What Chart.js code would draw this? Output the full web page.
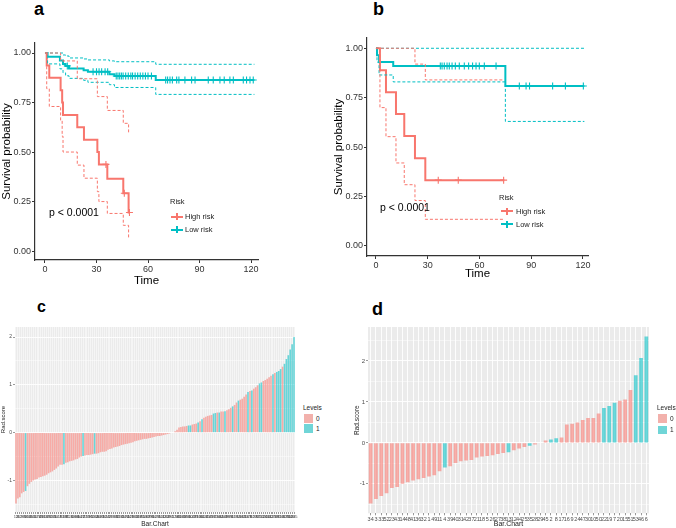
<!DOCTYPE html>
<html lang="en">
<head>
<meta charset="UTF-8">
<title>Survival curves and Rad-score bars</title>
<script src="https://cdn.jsdelivr.net/npm/chart.js"></script>
<style>
    body {
        margin: 0;
        width: 676px;
        height: 528px;
        position: relative;
        overflow: hidden;
        background: #fff;
        font-family: 'Liberation Sans', Arial, sans-serif;
    }
    canvas { position: absolute; }
    .lbl { position: absolute; font-weight: bold; color: #000; line-height: 1; }
    .txt { position: absolute; white-space: nowrap; color: #000; }
    .pval { font-size: 10.5px; line-height: 12px; }
    .leg { font-size: 7.5px; line-height: 9px; color: #222; }
    .key { position: absolute; height: 2px; width: 12px; }
    .mark { position: absolute; width: 1.3px; height: 7px; }
    .sq { position: absolute; width: 8.5px; height: 8.5px; }
    .lev { font-size: 6.5px; line-height: 8px; color: #222; }
</style>
</head>
<body>
<canvas id="kmA" width="270" height="262" style="left:0;top:30px"></canvas>
<canvas id="kmB" width="350" height="262" style="left:326px;top:30px"></canvas>
<canvas id="barC" width="300" height="208" style="left:0;top:320px"></canvas>
<canvas id="barD" width="340" height="208" style="left:336px;top:320px"></canvas>

<div class="lbl" style="left:34px;top:0;font-size:18px">a</div>
<div class="lbl" style="left:373px;top:0;font-size:18px">b</div>
<div class="lbl" style="left:37px;top:299px;font-size:16px">c</div>
<div class="lbl" style="left:372px;top:300px;font-size:18px">d</div>

<!-- panel a annotations -->
<div class="txt pval" style="left:49px;top:206px">p &lt; 0.0001</div>
<div class="txt leg" style="left:170px;top:197px">Risk</div>
<div class="key" style="left:171px;top:215.5px;background:#F8766D"></div>
<div class="mark" style="left:176.3px;top:213px;background:#F8766D"></div>
<div class="txt leg" style="left:185px;top:212px">High risk</div>
<div class="key" style="left:171px;top:228.5px;background:#00BFC4"></div>
<div class="mark" style="left:176.3px;top:226px;background:#00BFC4"></div>
<div class="txt leg" style="left:185px;top:225px">Low risk</div>

<!-- panel b annotations -->
<div class="txt pval" style="left:380px;top:201px">p &lt; 0.0001</div>
<div class="txt leg" style="left:499px;top:193px">Risk</div>
<div class="key" style="left:501px;top:210px;background:#F8766D"></div>
<div class="mark" style="left:506.3px;top:207.5px;background:#F8766D"></div>
<div class="txt leg" style="left:516px;top:206.5px">High risk</div>
<div class="key" style="left:501px;top:223px;background:#00BFC4"></div>
<div class="mark" style="left:506.3px;top:220.5px;background:#00BFC4"></div>
<div class="txt leg" style="left:516px;top:219.5px">Low risk</div>

<!-- panel c legend -->
<div class="txt lev" style="left:303px;top:404px">Levels</div>
<div class="sq" style="left:304px;top:414px;background:#F2B1AC"></div>
<div class="txt lev" style="left:316px;top:414.5px">0</div>
<div class="sq" style="left:304px;top:424px;background:#70D5D7"></div>
<div class="txt lev" style="left:316px;top:424.5px">1</div>

<!-- panel d legend -->
<div class="txt lev" style="left:657px;top:404px">Levels</div>
<div class="sq" style="left:658px;top:414px;background:#F2B1AC"></div>
<div class="txt lev" style="left:670px;top:414.5px">0</div>
<div class="sq" style="left:658px;top:425.5px;background:#70D5D7"></div>
<div class="txt lev" style="left:670px;top:426px">1</div>

<script>
    // ---- data: panel a (training) ----
    const timeTicks = [0, 30, 60, 90, 120];
    const survTicks = [0, 0.25, 0.5, 0.75, 1];

    const aHighT   = [0, 1, 2.5, 9.1, 10, 10.5, 18.8, 22.7, 30.5, 31.4, 36.3, 45.6, 48.7, 49.2];
    const aHighS   = [1, 0.9375, 0.875, 0.8125, 0.75, 0.6875, 0.625, 0.5625, 0.5, 0.4375, 0.365, 0.292, 0.195, 0.195];
    const aHighUp  = [1, 1, 1, 0.96, 0.96, 0.96, 0.87, 0.87, 0.78, 0.78, 0.71, 0.645, 0.6, 0.6];
    const aHighLo  = [1, 0.82, 0.73, 0.66, 0.58, 0.5, 0.434, 0.368, 0.3, 0.25, 0.19, 0.13, 0.064, 0.064];
    const aHighCens = [35.5, 46.2, 49.2];

    const aLowT  = [0, 1.5, 8.7, 10.5, 12, 14, 22.5, 25, 37.5, 40.5, 64.5, 122];
    const aLowS  = [1, 0.981, 0.962, 0.944, 0.935, 0.922, 0.913, 0.905, 0.893, 0.884, 0.864, 0.864];
    const aLowUp = [1, 1, 1, 0.99, 0.985, 0.975, 0.97, 0.965, 0.96, 0.956, 0.943, 0.943];
    const aLowLo = [1, 0.945, 0.92, 0.9, 0.885, 0.872, 0.862, 0.852, 0.84, 0.826, 0.791, 0.791];
    const aLowCens = [13, 28, 30, 31.5, 33, 35, 36.5, 41.5, 42.5, 43.5, 44.5, 45.5, 47, 48.5, 50, 51,
        52.5, 54, 55.5, 57, 58.5, 60, 62, 70.3, 71.4, 72.8, 74.2, 76.7, 78, 81.5, 85.4, 87.4,
        95.1, 98, 101.9, 104.4, 107.7, 109.7, 115.5, 117.4, 119.4, 121.3];

    // ---- data: panel b (validation) ----
    const bHighT  = [0, 2.3, 5.8, 11.6, 16.4, 22.6, 28.6, 74.4];
    const bHighS  = [1, 0.889, 0.778, 0.667, 0.556, 0.444, 0.333, 0.333];
    const bHighUp = [1, 1, 1, 1, 1, 0.92, 0.84, 0.84];
    const bHighLo = [1, 0.7, 0.553, 0.42, 0.31, 0.23, 0.135, 0.135];
    const bHighCens = [36.1, 47.7, 74];

    const bLowT  = [0, 0.6, 1.8, 10, 75, 120.8];
    const bLowS  = [1, 0.965, 0.931, 0.91, 0.809, 0.809];
    const bLowUp = [1, 1, 1, 1, 1, 1];
    const bLowLo = [1, 0.93, 0.865, 0.83, 0.63, 0.63];
    const bLowCens = [37.3, 38.3, 39.6, 41.2, 42.5, 44.1, 46, 48.3, 51.2, 53.7, 56, 58, 59.9,
        62.8, 69.6, 83.1, 87, 89, 102.4, 109.8, 120.2];

    // ---- data: panel c (training Rad-score) ----
    const cIds = [
        13, 26, 12, 9, 35, 88, 102, 57, 66, 140,
        3, 121, 74, 45, 98, 110, 27, 63, 81, 135,
        19, 52, 144, 7, 93, 118, 38, 71, 126, 4,
        59, 104, 86, 30, 141, 22, 77, 115, 49, 95,
        11, 132, 68, 40, 107, 83, 16, 124, 55, 2,
        99, 137, 34, 61, 113, 90, 25, 146, 72, 44,
        129, 8, 101, 58, 117, 36, 85, 14, 139, 67,
        23, 96, 50, 120, 78, 5, 111, 42, 133, 64,
        29, 92, 1, 128, 54, 80, 18, 143, 37, 106,
        69, 10, 122, 47, 89, 31, 136, 60, 114, 24,
        75, 145, 43, 97, 15, 130, 56, 84, 20, 109,
        39, 138, 70, 6, 119, 51, 94, 28, 142, 65,
        33, 103, 79, 17, 127, 46, 87, 21, 112, 62,
        134, 41, 100, 32, 125, 73, 48, 91, 116, 53,
        82, 131, 76, 108, 123, 105
    ];
    const cScore = [
        -1.48, -1.38, -1.35, -1.27, -1.24, -1.22, -1.12, -1.07, -1.03, -1.00,
        -0.98, -0.97, -0.94, -0.93, -0.91, -0.90, -0.88, -0.85, -0.83, -0.81,
        -0.78, -0.75, -0.71, -0.67, -0.67, -0.66, -0.63, -0.62, -0.60, -0.59,
        -0.58, -0.56, -0.55, -0.52, -0.50, -0.49, -0.48, -0.47, -0.47, -0.46,
        -0.45, -0.44, -0.44, -0.43, -0.41, -0.40, -0.40, -0.39, -0.36, -0.34,
        -0.33, -0.31, -0.30, -0.29, -0.28, -0.26, -0.25, -0.24, -0.23, -0.22,
        -0.21, -0.20, -0.18, -0.17, -0.16, -0.15, -0.14, -0.13, -0.13, -0.12,
        -0.11, -0.10, -0.09, -0.08, -0.07, -0.07, -0.06, -0.05, -0.04, -0.03,
        -0.02, -0.01, 0.01, 0.03, 0.06, 0.11, 0.12, 0.13, 0.13, 0.14,
        0.15, 0.15, 0.17, 0.18, 0.19, 0.21, 0.24, 0.28, 0.31, 0.33,
        0.35, 0.36, 0.37, 0.40, 0.41, 0.42, 0.42, 0.44, 0.44, 0.45,
        0.47, 0.49, 0.52, 0.55, 0.58, 0.63, 0.67, 0.69, 0.71, 0.75,
        0.80, 0.85, 0.87, 0.88, 0.92, 0.95, 0.99, 1.03, 1.05, 1.08,
        1.10, 1.13, 1.16, 1.19, 1.22, 1.25, 1.27, 1.29, 1.33, 1.38,
        1.44, 1.54, 1.62, 1.74, 1.85, 2.00
    ];
    const cLevel = [
        0, 0, 0, 0, 0, 1, 0, 0, 0, 0,
        0, 0, 0, 0, 0, 0, 0, 0, 0, 0,
        0, 0, 0, 0, 0, 1, 0, 0, 0, 0,
        0, 0, 0, 0, 0, 1, 0, 0, 0, 0,
        0, 1, 0, 0, 0, 0, 0, 0, 0, 0,
        0, 0, 0, 0, 0, 0, 0, 0, 0, 0,
        0, 0, 0, 0, 0, 0, 0, 0, 0, 0,
        0, 0, 0, 0, 0, 0, 0, 0, 0, 0,
        0, 0, 0, 0, 0, 0, 0, 0, 0, 0,
        1, 1, 0, 0, 0, 1, 0, 1, 0, 0,
        0, 0, 0, 1, 1, 0, 1, 0, 0, 1,
        0, 0, 0, 1, 0, 0, 1, 0, 0, 0,
        0, 1, 0, 1, 0, 0, 0, 1, 1, 0,
        0, 0, 0, 0, 1, 0, 1, 1, 1, 0,
        1, 1, 1, 1, 1, 1
    ];

    // ---- data: panel d (validation Rad-score) ----
    const dIds = [34, 3, 33, 52, 23, 43, 14, 48, 41, 36, 32, 1, 49, 11, 4, 39, 40, 31, 42, 37,
        21, 18, 5, 26, 27, 38, 13, 12, 44, 25, 35, 28, 29, 45, 2, 8, 17, 16, 9, 24,
        47, 30, 10, 50, 22, 19, 7, 20, 15, 51, 53, 46, 6];
    const dScore = [-1.48, -1.37, -1.30, -1.23, -1.10, -1.08, -1.00, -0.96, -0.92, -0.89,
        -0.86, -0.82, -0.79, -0.69, -0.60, -0.57, -0.49, -0.45, -0.43, -0.42,
        -0.36, -0.33, -0.32, -0.30, -0.27, -0.25, -0.23, -0.18, -0.14, -0.10,
        -0.07, -0.04, -0.01, 0.06, 0.08, 0.11, 0.13, 0.45, 0.47, 0.50,
        0.56, 0.61, 0.61, 0.72, 0.85, 0.90, 0.98, 1.03, 1.06, 1.29,
        1.65, 2.07, 2.60];
    const dLevel = [0, 0, 0, 0, 0, 0, 0, 0, 0, 0,
        0, 0, 0, 0, 1, 0, 0, 0, 0, 0,
        0, 0, 0, 0, 0, 0, 1, 0, 0, 0,
        1, 0, 0, 0, 1, 1, 0, 0, 0, 0,
        0, 0, 0, 0, 1, 1, 1, 0, 0, 0,
        1, 1, 1];
    const radTicks = [-1.5, -1, -0.5, 0, 0.5, 1, 1.5, 2, 2.5];

    const RED = '#F8766D', TEAL = '#00BFC4';
    Chart.defaults.font.family = "'Liberation Sans', Arial, sans-serif";

    // grey ggplot panel behind the grid
    Chart.register({
        id: 'panelBg',
        beforeDraw(chart, args, opts) {
            if (!opts.color) return;
            const a = chart.chartArea, ctx = chart.ctx;
            ctx.save();
            ctx.fillStyle = opts.color;
            ctx.fillRect(a.left, a.top, a.right - a.left, a.bottom - a.top);
            ctx.restore();
        }
    });

    function survAt(T, S, t) {
        let s = S[0];
        for (let i = 0; i < T.length; i++) if (T[i] <= t) s = S[i];
        return s;
    }

    function stepLine(T, S, color, width, dash) {
        return {
            data: T.map((t, i) => ({x: t, y: S[i]})),
            borderColor: color, borderWidth: width, borderDash: dash || [],
            stepped: true, pointRadius: 0, fill: false
        };
    }

    function censMarks(cens, T, S, color) {
        return {
            data: cens.map(t => ({x: t, y: survAt(T, S, t)})),
            showLine: false, pointStyle: 'cross', pointRadius: 3.5,
            borderColor: color, borderWidth: 1.1
        };
    }

    function kmChart(id, o) {
        new Chart(document.getElementById(id), {
            type: 'line',
            data: {
                datasets: [
                    stepLine(o.hiT, o.hiUp, RED, 1, [3, 2]),
                    stepLine(o.hiT, o.hiLo, RED, 1, [3, 2]),
                    stepLine(o.loT, o.loUp, TEAL, 1, [3, 2]),
                    stepLine(o.loT, o.loLo, TEAL, 1, [3, 2]),
                    stepLine(o.hiT, o.hiS, RED, 2),
                    stepLine(o.loT, o.loS, TEAL, 2),
                    censMarks(o.hiCens, o.hiT, o.hiS, RED),
                    censMarks(o.loCens, o.loT, o.loS, TEAL)
                ]
            },
            options: {
                responsive: false,
                animation: false,
                events: [],
                layout: {padding: o.pad},
                plugins: {legend: {display: false}, tooltip: {enabled: false}},
                scales: {
                    x: {
                        type: 'linear', min: o.xMin, max: o.xMax,
                        afterBuildTicks: s => { s.ticks = timeTicks.map(v => ({value: v})); },
                        afterFit: s => { s.height = o.xH; },
                        ticks: {color: '#333', font: {size: 9}, padding: 1, maxRotation: 0},
                        grid: {drawOnChartArea: false, tickLength: 3, color: '#333'},
                        border: {color: '#333', width: 1.2},
                        title: {display: true, text: 'Time', color: '#000', font: {size: 11.5},
                            padding: {top: 0, bottom: o.timePad}}
                    },
                    y: {
                        min: o.yMin, max: o.yMax,
                        afterBuildTicks: s => { s.ticks = survTicks.map(v => ({value: v})); },
                        afterFit: s => { s.width = o.yW; },
                        ticks: {color: '#333', font: {size: 9}, padding: 1, callback: v => v.toFixed(2)},
                        grid: {drawOnChartArea: false, tickLength: 3, color: '#333'},
                        border: {color: '#333', width: 1.2},
                        title: {display: true, text: 'Survival probability', color: '#000',
                            font: {size: 11.5}, padding: {top: 0, bottom: 0}}
                    }
                }
            }
        });
    }

    function barChart(id, o) {
        const pink = 'rgba(248,118,109,0.58)', teal = 'rgba(0,191,196,0.58)';
        new Chart(document.getElementById(id), {
            type: 'bar',
            data: {
                labels: o.ids,
                datasets: [
                    {label: '0', data: o.score.map((v, i) => o.level[i] === 0 ? v : null), backgroundColor: pink},
                    {label: '1', data: o.score.map((v, i) => o.level[i] === 1 ? v : null), backgroundColor: teal}
                ]
            },
            options: {
                responsive: false,
                animation: false,
                events: [],
                layout: {padding: o.pad},
                datasets: {bar: {barPercentage: o.barPct, categoryPercentage: 1}},
                plugins: {legend: {display: false}, tooltip: {enabled: false}, panelBg: {color: '#EBEBEB'}},
                scales: {
                    x: {
                        stacked: true,
                        afterFit: s => { s.height = o.xH; },
                        ticks: {color: '#4D4D4D', font: {size: o.xFont}, padding: 0.5,
                            autoSkip: false, maxRotation: 0, minRotation: 0},
                        grid: {offset: false, color: '#fff', lineWidth: o.vGrid, tickLength: 2,
                            tickColor: '#555', tickWidth: 0.6},
                        border: {display: false},
                        title: {display: true, text: 'Bar.Chart', color: '#222', font: {size: o.tFont},
                            padding: {top: 0, bottom: 0}}
                    },
                    y: {
                        stacked: true, min: o.yMin, max: o.yMax,
                        afterBuildTicks: s => {
                            s.ticks = radTicks.filter(v => v >= o.yMin && v <= o.yMax).map(v => ({value: v}));
                        },
                        afterFit: s => { s.width = o.yW; },
                        ticks: {color: '#4D4D4D', font: {size: o.yFont}, padding: 1,
                            callback: v => Number.isInteger(v) ? v : ''},
                        grid: {
                            color: '#fff',
                            lineWidth: c => (c.tick && Number.isInteger(c.tick.value)) ? 0.9 : 0.45,
                            tickColor: c => (c.tick && Number.isInteger(c.tick.value)) ? '#555' : 'rgba(0,0,0,0)',
                            tickLength: 2, tickWidth: 0.6
                        },
                        border: {display: false},
                        title: {display: true, text: 'Rad.score', color: '#222', font: {size: o.tFont - 0.5},
                            padding: {top: 0, bottom: 0}}
                    }
                }
            }
        });
    }

    kmChart('kmA', {
        hiT: aHighT, hiS: aHighS, hiUp: aHighUp, hiLo: aHighLo, hiCens: aHighCens,
        loT: aLowT, loS: aLowS, loUp: aLowUp, loLo: aLowLo, loCens: aLowCens,
        xMin: -5.82, xMax: 124.07, yMin: -0.045, yMax: 1.0505,
        pad: {left: 0, top: 13, right: 12, bottom: 0}, xH: 32, yW: 35, timePad: 4
    });

    kmChart('kmB', {
        hiT: bHighT, hiS: bHighS, hiUp: bHighUp, hiLo: bHighLo, hiCens: bHighCens,
        loT: bLowT, loS: bLowS, loUp: bLowUp, loLo: bLowLo, loCens: bLowCens,
        xMin: -5.2, xMax: 122.9, yMin: -0.0506, yMax: 1.052,
        pad: {left: 6, top: 8, right: 88, bottom: 0}, xH: 36, yW: 35, timePad: 11
    });

    barChart('barC', {
        ids: cIds, score: cScore, level: cLevel,
        yMin: -1.66, yMax: 2.21,
        pad: {left: 0, top: 7, right: 5, bottom: 0}, xH: 16, yW: 15,
        xFont: 4, yFont: 5, tFont: 6.5, vGrid: 0.5, barPct: 0.82
    });

    barChart('barD', {
        ids: dIds, score: dScore, level: dLevel,
        yMin: -1.72, yMax: 2.83,
        pad: {left: 17, top: 7, right: 27, bottom: 0}, xH: 14.7, yW: 15,
        xFont: 5.5, yFont: 6, tFont: 7, vGrid: 0.9, barPct: 0.7
    });
</script>
</body>
</html>
